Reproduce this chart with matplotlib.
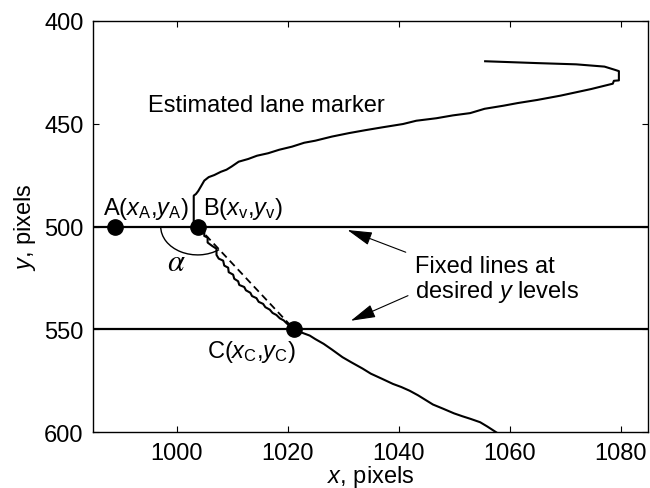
import numpy as np
import matplotlib
matplotlib.use("Agg")
import matplotlib.pyplot as plt
from matplotlib.patches import Arc

plt.rcParams['font.family'] = ['Liberation Sans', 'DejaVu Sans']
plt.rcParams['mathtext.fontset'] = 'custom'
plt.rcParams['mathtext.rm'] = 'Liberation Sans'
plt.rcParams['mathtext.it'] = 'Liberation Sans:italic'
plt.rcParams['font.size'] = 17

# estimated lane marker, top part down to point B
upper_x = [1055.6, 1065.0, 1072.0, 1077.1, 1078.9, 1079.7, 1079.7, 1078.8, 1078.6, 1074.7,
           1069.2, 1065.0, 1061.5, 1058.9, 1055.5, 1052.9, 1049.8, 1046.8, 1043.2, 1040.8,
           1037.1, 1034.0, 1031.1, 1028.0, 1025.0, 1023.0, 1020.8, 1018.5, 1016.5, 1014.5,
           1012.9, 1011.2, 1009.9, 1009.0, 1008.0, 1006.8, 1005.8, 1005.0, 1004.4, 1003.9,
           1003.5, 1003.1, 1003.1, 1003.8]
upper_y = [419.7, 420.6, 421.2, 422.3, 423.8, 424.5, 429.0, 429.2, 430.6, 433.2,
           436.4, 438.5, 440.0, 441.3, 442.8, 444.9, 446.0, 447.4, 448.6, 450.2,
           451.8, 453.2, 454.6, 456.3, 458.3, 459.3, 461.2, 462.7, 464.4, 465.6,
           467.2, 468.5, 470.9, 472.4, 473.4, 475.0, 476.0, 477.7, 480.5, 482.8,
           484.2, 485.0, 498.8, 500.0]

# stepped segment between B and C
mid_x = [1003.8, 1005.0, 1005.0, 1005.6, 1005.6, 1006.4, 1007.2, 1007.2, 1007.6, 1008.4,
         1008.6, 1009.3, 1009.4, 1010.2, 1010.4, 1011.1, 1011.3, 1012.2, 1012.5, 1013.3,
         1013.6, 1014.4, 1014.8, 1015.6, 1016.0, 1016.8, 1017.3, 1018.0, 1018.6, 1019.3,
         1019.9, 1020.6, 1021.2]
mid_y = [500.0, 502.2, 504.6, 505.4, 507.8, 509.4, 510.8, 513.8, 515.6, 516.6,
         519.0, 520.0, 522.2, 523.4, 525.4, 526.6, 528.4, 529.4, 531.0, 532.2,
         533.8, 534.8, 536.6, 537.6, 539.2, 540.4, 542.0, 543.0, 544.6, 545.6,
         547.2, 548.4, 550.0]

# lower part below C
lower_x = [1021.2, 1022.5, 1024.0, 1025.0, 1026.5, 1028.0, 1029.9, 1031.5, 1033.5, 1035.0,
           1037.1, 1039.0, 1040.5, 1042.0, 1043.5, 1045.0, 1046.2, 1048.0, 1050.0, 1051.5,
           1053.0, 1054.7, 1056.0, 1057.6]
lower_y = [550.0, 551.5, 553.0, 554.7, 557.0, 559.8, 563.5, 566.0, 569.0, 571.5,
           574.1, 576.5, 578.0, 579.8, 582.0, 584.5, 586.5, 588.5, 590.8, 592.2,
           593.5, 595.1, 597.2, 600.0]

# reference points and fixed y levels
pt_x = [988.9, 1003.8, 1021.2]
pt_y = [500, 500, 550]
y_levels = [500, 550]

lane_x = upper_x + mid_x[1:] + lower_x[1:]
lane_y = upper_y + mid_y[1:] + lower_y[1:]

fig = plt.figure(figsize=(6.5, 4.89), dpi=100)
ax = fig.add_axes([0.1435, 0.1139, 0.8539, 0.8417])

for yl in y_levels:
    ax.axhline(yl, color='k', lw=1.6, zorder=2)

ax.plot(lane_x, lane_y, color='k', lw=1.5, zorder=3)
ax.plot([pt_x[1], pt_x[2]], [pt_y[1], pt_y[2]], color='k', lw=1.3, ls=(0, (4, 2.5)), zorder=3)
ax.plot(pt_x, pt_y, 'o', color='k', ms=11, zorder=5)

# angle between AB and BC (Arc angles are geometric angles in data units)
ax.add_patch(Arc((pt_x[1], pt_y[1]), 13.3, 27.6, theta1=71, theta2=180,
                 color='k', lw=1.0, zorder=4))
ax.text(999.9, 517.4, r'$\alpha$', fontsize=22, math_fontfamily='stix',
        ha='center', va='center')

ax.text(986.8, 493.9, r'A($\mathit{x}_\mathrm{A}$,$\mathit{y}_\mathrm{A}$)', ha='left', va='baseline')
ax.text(1004.8, 493.9, r'B($\mathit{x}_\mathrm{v}$,$\mathit{y}_\mathrm{v}$)', ha='left', va='baseline')
ax.text(1005.5, 563.6, r'C($\mathit{x}_\mathrm{C}$,$\mathit{y}_\mathrm{C}$)', ha='left', va='baseline')
ax.text(994.8, 443.7, 'Estimated lane marker', ha='left', va='baseline')
ax.text(1042.9, 522.0, 'Fixed lines at', ha='left', va='baseline')
ax.text(1042.9, 534.1, r'desired $\mathit{y}$ levels', ha='left', va='baseline')

arrow = dict(arrowstyle='-|>,head_length=1.1,head_width=0.3', color='k', lw=0.8,
             mutation_scale=14, shrinkA=0, shrinkB=0)
ax.annotate('', xy=(1030.8, 501.7), xytext=(1041.3, 512.5), arrowprops=arrow)
ax.annotate('', xy=(1031.4, 545.8), xytext=(1041.7, 533.6), arrowprops=arrow)

ax.set_xlim(985, 1085)
ax.set_ylim(600, 400)
ax.set_xticks([1000, 1020, 1040, 1060, 1080])
ax.set_yticks([400, 450, 500, 550, 600])
ax.tick_params(direction='in', top=True, right=True, length=4, width=0.8, pad=7)
for sp in ax.spines.values():
    sp.set_linewidth(1.0)
ax.set_xlabel(r'$\mathit{x}$, pixels', va='baseline')
ax.xaxis.set_label_coords(0.5, -0.12)
ax.set_ylabel(r'$\mathit{y}$, pixels', labelpad=4)

fig.savefig('out.png', dpi=100)
